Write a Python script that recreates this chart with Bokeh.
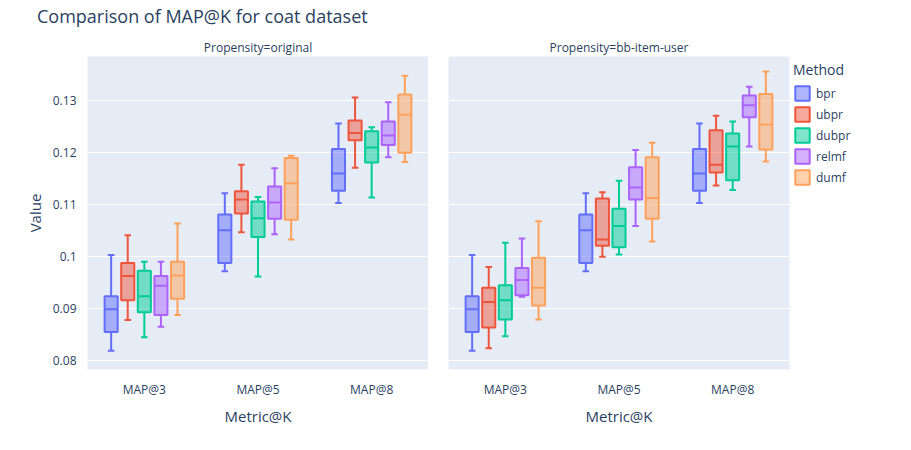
from bokeh.plotting import figure
from bokeh.models import Range1d, FixedTicker, Legend, LegendItem, Title, Div
from bokeh.layouts import row, column
from bokeh.embed import file_html
from bokeh.resources import INLINE

metrics = ["MAP@3", "MAP@5", "MAP@8"]
methods = ["bpr", "ubpr", "dubpr", "relmf", "dumf"]
colors = ["#636efa", "#EF553B", "#00cc96", "#ab63fa", "#FFA15A"]
y_ticks = [0.08, 0.09, 0.10, 0.11, 0.12, 0.13]

# [low, q1, median, q3, high] per metric, per method
original = {
    "bpr":   [[0.0819, 0.0855, 0.0899, 0.0924, 0.1003], [0.0972, 0.0988, 0.1051, 0.1081, 0.1122], [0.1103, 0.1127, 0.1160, 0.1207, 0.1256]],
    "ubpr":  [[0.0878, 0.0916, 0.0963, 0.0988, 0.1041], [0.1047, 0.1083, 0.1110, 0.1126, 0.1177], [0.1171, 0.1224, 0.1238, 0.1262, 0.1306]],
    "dubpr": [[0.0845, 0.0893, 0.0924, 0.0973, 0.0990], [0.0962, 0.1038, 0.1074, 0.1106, 0.1115], [0.1114, 0.1181, 0.1210, 0.1241, 0.1249]],
    "relmf": [[0.0865, 0.0888, 0.0944, 0.0963, 0.0990], [0.1043, 0.1073, 0.1104, 0.1135, 0.1170], [0.1191, 0.1215, 0.1233, 0.1260, 0.1297]],
    "dumf":  [[0.0888, 0.0919, 0.0964, 0.0990, 0.1064], [0.1033, 0.1071, 0.1141, 0.1190, 0.1194], [0.1182, 0.1200, 0.1273, 0.1312, 0.1348]],
}
bb_item_user = {
    "bpr":   [[0.0819, 0.0855, 0.0899, 0.0924, 0.1003], [0.0972, 0.0988, 0.1051, 0.1081, 0.1122], [0.1103, 0.1127, 0.1160, 0.1207, 0.1256]],
    "ubpr":  [[0.0824, 0.0864, 0.0913, 0.0940, 0.0980], [0.1000, 0.1021, 0.1033, 0.1112, 0.1124], [0.1137, 0.1162, 0.1177, 0.1243, 0.1271]],
    "dubpr": [[0.0847, 0.0879, 0.0916, 0.0945, 0.1027], [0.1004, 0.1018, 0.1059, 0.1092, 0.1146], [0.1128, 0.1147, 0.1212, 0.1237, 0.1260]],
    "relmf": [[0.0923, 0.0926, 0.0955, 0.0978, 0.1035], [0.1059, 0.1110, 0.1133, 0.1172, 0.1205], [0.1212, 0.1268, 0.1291, 0.1310, 0.1327]],
    "dumf":  [[0.0879, 0.0906, 0.0940, 0.0998, 0.1068], [0.1029, 0.1073, 0.1113, 0.1191, 0.1219], [0.1183, 0.1206, 0.1254, 0.1313, 0.1356]],
}

FONT = "Open Sans"
TXT = "#2a3f5f"
step = 0.146
bw = 0.115


def panel(data, facet, left):
    p = figure(frame_width=341, frame_height=313, output_backend="svg", toolbar_location=None,
               x_range=Range1d(0, 3), y_range=Range1d(0.0783, 0.1385),
               min_border_left=87 if left else 20, min_border_right=0 if left else 8,
               min_border_top=9, min_border_bottom=10)
    p.add_layout(Title(text=facet, align="center", text_font=FONT, text_font_size="12px",
                       text_font_style="normal", text_color=TXT, standoff=2), "above")
    p.background_fill_color = "#E5ECF6"
    p.outline_line_color = None
    p.xgrid.visible = False
    p.ygrid.grid_line_color = "white"
    p.ygrid.grid_line_width = 1
    p.xaxis.ticker = FixedTicker(ticks=[0.5, 1.5, 2.5])
    p.xaxis.major_label_overrides = {0.5: metrics[0], 1.5: metrics[1], 2.5: metrics[2]}
    p.yaxis.ticker = FixedTicker(ticks=y_ticks)
    p.yaxis.major_label_overrides = {t: ("%g" % t) for t in y_ticks}
    for ax in (p.xaxis, p.yaxis):
        ax.axis_line_color = None
        ax.major_tick_line_color = None
        ax.minor_tick_line_color = None
        ax.major_label_text_font = FONT
        ax.major_label_text_font_size = "12px"
        ax.major_label_text_color = TXT
        ax.axis_label_text_font = FONT
        ax.axis_label_text_font_size = "15px"
        ax.axis_label_text_font_style = "normal"
        ax.axis_label_text_color = TXT
    p.xaxis.axis_label = "Metric@K"
    if left:
        p.yaxis.axis_label = "Value"
    else:
        p.yaxis.visible = False
    items = []
    for j, m in enumerate(methods):
        off = (j - 2) * step
        xs = [i + 0.5 + off for i in range(3)]
        lo = [v[0] for v in data[m]]
        q1 = [v[1] for v in data[m]]
        md = [v[2] for v in data[m]]
        q3 = [v[3] for v in data[m]]
        hi = [v[4] for v in data[m]]
        c = colors[j]
        p.segment(xs, q3, xs, hi, line_color=c, line_width=2)
        p.segment(xs, lo, xs, q1, line_color=c, line_width=2)
        cx0 = [x - bw / 4 for x in xs]
        cx1 = [x + bw / 4 for x in xs]
        p.segment(cx0, hi, cx1, hi, line_color=c, line_width=2)
        p.segment(cx0, lo, cx1, lo, line_color=c, line_width=2)
        r = p.vbar(x=xs, width=bw, bottom=q1, top=q3, fill_color=c, fill_alpha=0.5,
                   line_color=c, line_width=2)
        p.segment([x - bw / 2 for x in xs], md, [x + bw / 2 for x in xs], md,
                  line_color=c, line_width=2)
        items.append(LegendItem(label=m, renderers=[r]))
    return p, items


p1, _ = panel(original, "Propensity=original", True)
p2, items = panel(bb_item_user, "Propensity=bb-item-user", False)
legend = Legend(items=items, title="Method", title_text_font=FONT, title_text_font_size="14px",
                title_text_font_style="normal",
                title_text_color=TXT, label_text_font=FONT, label_text_font_size="12px",
                label_text_color=TXT, border_line_color=None, glyph_width=18, glyph_height=18,
                spacing=3, label_height=18, location="top_left", margin=4, padding=10)
p2.add_layout(legend, "right")

title = Div(text="Comparison of MAP@K for coat dataset", width=880, height=26,
            styles={"font-family": FONT, "font-size": "18px", "color": TXT,
                    "margin-left": "37px", "margin-top": "4px"})
layout = column(title, row(p1, p2, spacing=0), spacing=0)
open("out.html", "w").write(file_html(layout, INLINE))
